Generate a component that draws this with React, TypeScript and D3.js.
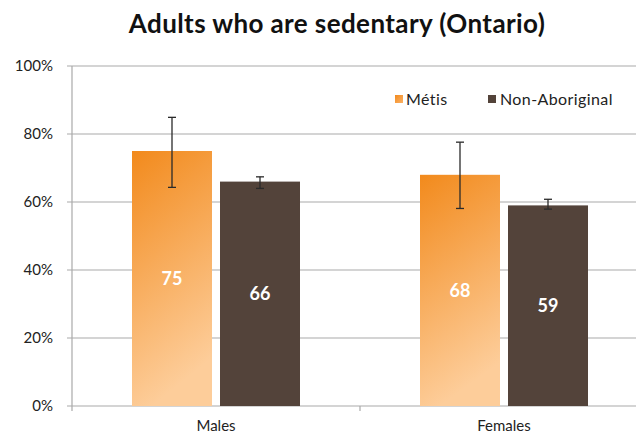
import React from "react";
import * as d3 from "d3";

const categories = ["Males", "Females"];
const seriesNames = ["Métis", "Non-Aboriginal"];
const metisValues = [75, 68];
const metisLow = [64.3, 58.1];
const metisHigh = [84.9, 77.6];
const nonAbValues = [66, 59];
const nonAbLow = [64.0, 57.9];
const nonAbHigh = [67.4, 60.8];
const yTicks = [0, 20, 40, 60, 80, 100];

const W = 636;
const H = 436;
const FONT = "Lato, 'Open Sans', sans-serif";
const DARK = "#53433A";

export default function App() {
  const x = d3.scaleBand<string>().domain(categories).range([72, 648]);
  const y = d3.scaleLinear().domain([0, 100]).range([406, 66]);
  const barW = 80;
  const gap = 8;
  const series = [
    { name: seriesNames[0], vals: metisValues, lo: metisLow, hi: metisHigh, fill: "url(#metisGrad)" },
    { name: seriesNames[1], vals: nonAbValues, lo: nonAbLow, hi: nonAbHigh, fill: DARK },
  ];
  const xOf = (cat: string, si: number) => {
    const c = (x(cat) as number) + x.bandwidth() / 2;
    return si === 0 ? c - gap / 2 - barW : c + gap / 2;
  };
  return (
    <svg width={W} height={H} style={{ display: "block", position: "absolute", left: 0, top: 0, background: "#fff" }} fontFamily={FONT}>
      <defs>
        <linearGradient id="metisGrad" x1="0" y1="0" x2="0.25" y2="1">
          <stop offset="0%" stopColor="#F28A1C" />
          <stop offset="100%" stopColor="#FDCD9A" />
        </linearGradient>
        <linearGradient id="metisSw" x1="0" y1="0" x2="1" y2="1">
          <stop offset="0%" stopColor="#F28A1C" />
          <stop offset="100%" stopColor="#FBB267" />
        </linearGradient>
      </defs>
      <rect x={0} y={0} width={W} height={H} fill="#fff" />
      <text x={337} y={33} textAnchor="middle" fontSize={26} fontWeight={700} letterSpacing={0.4} fill="#111">
        Adults who are sedentary (Ontario)
      </text>
      {yTicks.map((t) => (
        <g key={t}>
          <line x1={67} x2={W} y1={y(t)} y2={y(t)} stroke="#A9A9A9" strokeWidth={1.2} />
          <text x={53} y={y(t) + 5} textAnchor="end" fontSize={15} fill="#222">
            {t}%
          </text>
        </g>
      ))}
      <line x1={72} x2={72} y1={y(100)} y2={y(0)} stroke="#A9A9A9" strokeWidth={1.2} />
      {[72, 360, 648].map((v) => (
        <line key={v} x1={v} x2={v} y1={y(0)} y2={y(0) + 5} stroke="#A9A9A9" strokeWidth={1.2} />
      ))}
      {series.map((s, si) =>
        categories.map((c, ci) => {
          const bx = xOf(c, si);
          const v = s.vals[ci];
          return (
            <g key={s.name + c}>
              <rect x={bx} y={y(v)} width={barW} height={y(0) - y(v)} fill={s.fill} />
              <text
                x={bx + barW / 2}
                y={(y(v) + y(0)) / 2 + 6.5}
                textAnchor="middle"
                fontSize={18}
                fontWeight={700}
                fill="#fff"
              >
                {v}
              </text>
            </g>
          );
        })
      )}
      {series.map((s, si) =>
        categories.map((c, ci) => {
          const cx = xOf(c, si) + barW / 2;
          return (
            <g key={"e" + s.name + c} stroke="#2a2a2a" strokeWidth={1.3}>
              <line x1={cx} x2={cx} y1={y(s.hi[ci])} y2={y(s.lo[ci])} />
              <line x1={cx - 4} x2={cx + 4} y1={y(s.hi[ci])} y2={y(s.hi[ci])} />
              <line x1={cx - 4} x2={cx + 4} y1={y(s.lo[ci])} y2={y(s.lo[ci])} />
            </g>
          );
        })
      )}
      {categories.map((c) => (
        <text key={c} x={(x(c) as number) + x.bandwidth() / 2} y={431} textAnchor="middle" fontSize={15} fill="#222">
          {c}
        </text>
      ))}
      <g>
        <rect x={395} y={95} width={8} height={8} fill="url(#metisSw)" />
        <text x={406} y={105} fontSize={16} letterSpacing={0.4} fill="#222">{seriesNames[0]}</text>
        <rect x={488} y={95} width={8} height={8} fill={DARK} />
        <text x={500} y={105} fontSize={16} letterSpacing={0.4} fill="#222">{seriesNames[1]}</text>
      </g>
    </svg>
  );
}
